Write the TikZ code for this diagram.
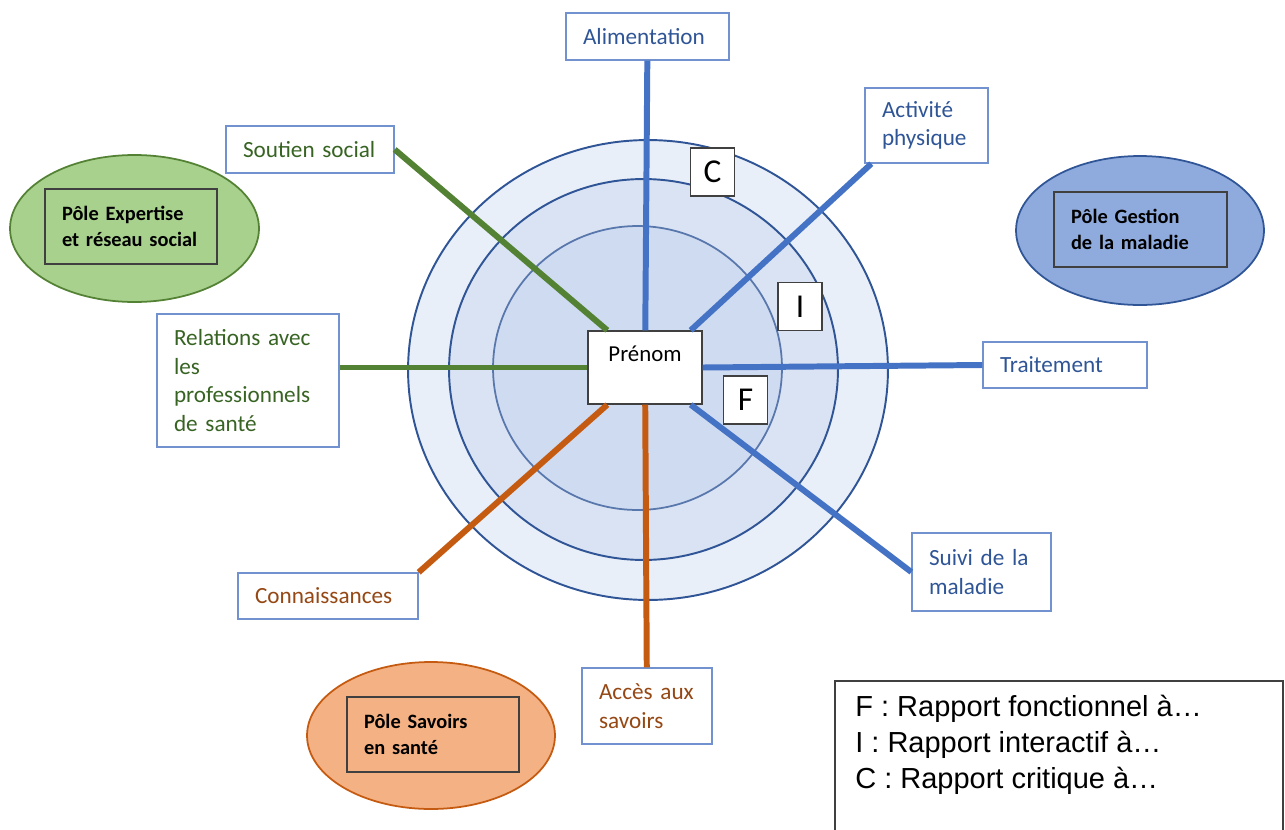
\documentclass[tikz,border=0pt]{standalone}
\usepackage{fontspec}
\setmainfont{Carlito}
\newfontfamily\legendfont{Liberation Sans}
\definecolor{bleu}{RGB}{68,114,196}
\definecolor{vert}{RGB}{84,130,53}
\definecolor{orange}{RGB}{197,90,17}
\definecolor{bleutxt}{RGB}{47,85,151}
\definecolor{verttxt}{RGB}{56,100,35}
\definecolor{orangetxt}{RGB}{150,72,20}
\definecolor{boxline}{RGB}{114,146,207}
\definecolor{polegray}{RGB}{64,64,64}
\definecolor{anneau}{RGB}{47,85,151}
\definecolor{fondA}{RGB}{233,239,248}
\definecolor{fondB}{RGB}{218,227,243}
\definecolor{fondC}{RGB}{207,219,241}
\tikzset{
	lbl/.style={draw=boxline, line width=0.8pt, fill=white, align=left, inner xsep=0.34cm, inner ysep=0pt, font=\fontsize{13.2}{16.2}\selectfont},
	pole/.style={draw=polegray, line width=0.9pt, align=left, inner xsep=0.34cm, inner ysep=0pt, text width=2.76cm, minimum height=1.5cm, font=\bfseries\fontsize{11.6}{14.7}\selectfont},
	lettre/.style={draw=polegray, fill=white, line width=0.7pt, minimum width=0.88cm, minimum height=0.96cm, inner sep=0pt, font=\fontsize{19}{19}\selectfont},
	branche/.style={line width=3.4pt}
}
\begin{document}
\begin{tikzpicture}[x=0.02cm, y=-0.02cm]
		\useasboundingbox (0,0) rectangle (1285,829);
		
		\draw[anneau, line width=1.1pt, fill=fondA] (648,370) ellipse [x radius=4.8cm, y radius=4.6cm];
		\draw[anneau, line width=1.1pt, fill=fondB] (643.5,369.5) ellipse [x radius=3.89cm, y radius=3.81cm];
		\draw[anneau!80!white, line width=1pt, fill=fondC] (637.5,368) ellipse [x radius=2.89cm, y radius=2.84cm];
		
		\draw[vert, line width=1pt, fill={rgb,255:red,169;green,209;blue,142}] (134.5,228.5) ellipse [x radius=2.49cm, y radius=1.47cm];
		\draw[anneau, line width=1pt, fill={rgb,255:red,143;green,170;blue,220}] (1140,230.5) ellipse [x radius=2.48cm, y radius=1.49cm];
		\draw[orange, line width=1pt, fill={rgb,255:red,244;green,177;blue,131}] (431,735.5) ellipse [x radius=2.48cm, y radius=1.47cm];
		
		\node[pole] (expertise) at (131,226.5) {Pôle Expertise\\et réseau social};
		\node[pole, text width=2.78cm] (gestion) at (1140.5,229.5) {Pôle Gestion\\de la maladie};
		\node[pole] (savoirs) at (433,734.5) {Pôle Savoirs\\en santé};
		
		\node[draw=polegray, fill=white, line width=0.8pt, minimum width=2.28cm, minimum height=1.46cm, align=center, font=\fontsize{13}{16}\selectfont] (prenom) at (645,367.5) {Prénom\\\mbox{}};
		
		\node[lbl, text=bleutxt, text width=2.58cm, minimum height=0.94cm] (alim) at (647.5,36.5) {Alimentation};
		\node[lbl, text=bleutxt, text width=1.78cm, minimum height=1.5cm] (act) at (926.5,125.5) {Activité\\physique};
		\node[lbl, text=bleutxt, text width=2.6cm, minimum height=0.92cm] (trait) at (1065,365) {Traitement};
		\node[lbl, text=bleutxt, text width=2.1cm, minimum height=1.56cm] (suivi) at (981.5,572) {Suivi de la\\maladie};
		\node[lbl, text=orangetxt, text width=1.92cm, minimum height=1.52cm] (acces) at (647,706) {Accès aux\\savoirs};
		\node[lbl, text=orangetxt, text width=2.92cm, minimum height=0.92cm] (conn) at (328,596) {Connaissances};
		\node[lbl, text=verttxt, text width=2.96cm, minimum height=2.66cm] (rel) at (248,380.5) {Relations avec\\les\\professionnels\\de santé};
		\node[lbl, text=verttxt, text width=2.68cm, minimum height=0.94cm] (sout) at (310,149.5) {Soutien social};
		
		\draw[branche, bleu] (alim) -- (prenom);
		\draw[branche, bleu] ([xshift=0.14cm]act.south west) -- ([xshift=-0.24cm]prenom.north east);
		\draw[branche, bleu] (trait.west) -- (prenom.east);
		\draw[branche, bleu] (suivi.west) -- ([xshift=-0.24cm]prenom.south east);
		\draw[branche, vert] (sout.east) -- ([xshift=0.4cm]prenom.north west);
		\draw[branche, vert] (rel.east |- prenom.west) -- (prenom.west);
		\draw[branche, orange] (conn.north east) -- ([xshift=0.4cm]prenom.south west);
		\draw[branche, orange] (acces) -- (prenom);
		
		\node[lettre] (c) at (712.5,172) {C};
		\node[lettre] (i) at (800,306.5) {I};
		\node[lettre] (f) at (745.5,400) {F};
		
		\draw[polegray, line width=1.1pt] (835,850) |- (1283,681) -- (1283,850);
		\node[anchor=north west, align=left, inner sep=0pt, font=\legendfont\fontsize{16.5}{20.5}\selectfont] (legende) at (855,695) {F : Rapport fonctionnel à…\\I : Rapport interactif à…\\C : Rapport critique à…};
\end{tikzpicture}
\end{document}
